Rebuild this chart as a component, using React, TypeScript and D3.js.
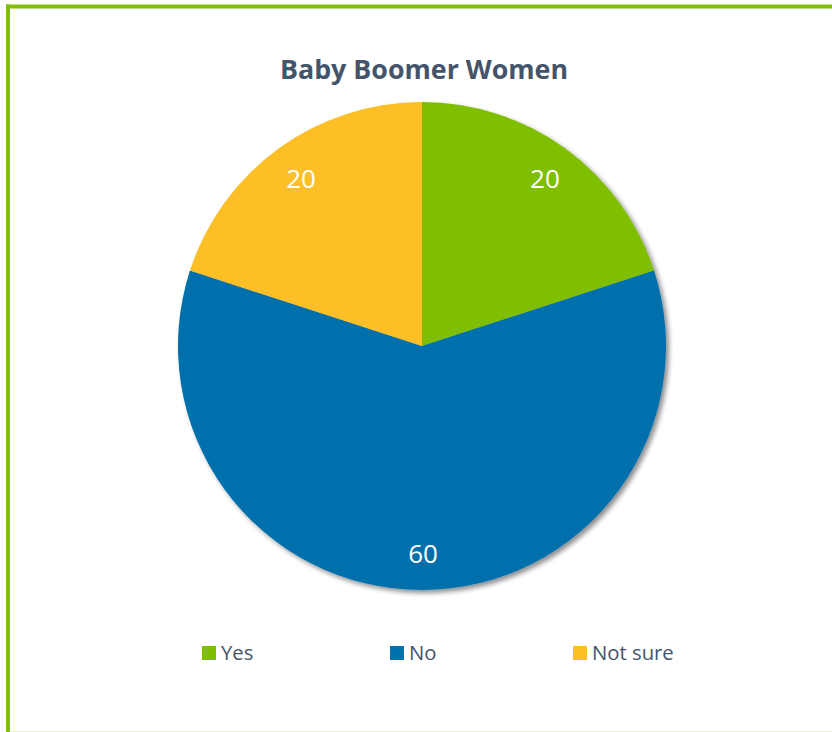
import React from "react";
import * as d3 from "d3";

const categories = ["Yes", "No", "Not sure"];
const values = [20, 60, 20];
const colors = ["#80BE06", "#0070AD", "#FDBF26"];
const title = "Baby Boomer Women";

const W = 832;
const H = 732;

export default function App() {
  const cx = 422;
  const cy = 346;
  const r = 244;
  const pie = d3.pie<number>().sort(null).startAngle(0).endAngle(2 * Math.PI);
  const arcs = pie(values);
  const arc = d3.arc<d3.PieArcDatum<number>>().innerRadius(0).outerRadius(r);
  const labelArc = d3.arc<d3.PieArcDatum<number>>().innerRadius(r * 0.85).outerRadius(r * 0.85);
  const legendX = [202, 390, 573];
  const font = "'Open Sans', sans-serif";
  return (
    <svg width={W} height={H} style={{ position: "absolute", left: 0, top: 0 }}>
      <defs>
        <filter id="sh" x="-10%" y="-10%" width="125%" height="125%">
          <feGaussianBlur in="SourceAlpha" stdDeviation="2.5" />
          <feOffset dx="3" dy="3" result="b" />
          <feComponentTransfer>
            <feFuncA type="linear" slope="0.45" />
          </feComponentTransfer>
          <feMerge>
            <feMergeNode />
            <feMergeNode in="SourceGraphic" />
          </feMerge>
        </filter>
      </defs>
      <rect x={0} y={0} width={W} height={H} fill="#fff" />
      <line x1={6} x2={W} y1={6.5} y2={6.5} stroke="#7FBF0A" strokeWidth={4} />
      <line x1={8} x2={8} y1={4.5} y2={H} stroke="#7FBF0A" strokeWidth={4} />
      <line x1={10} x2={W} y1={731.5} y2={731.5} stroke="#E8EED8" strokeWidth={1} />
      <text x={424} y={79} textAnchor="middle" fontFamily={font} fontWeight="bold" fontSize={26.8} fill="#44546A">
        {title}
      </text>
      <g transform={`translate(${cx},${cy})`} filter="url(#sh)">
        {arcs.map((a, i) => (
          <path key={i} d={arc(a) || ""} fill={colors[i]} />
        ))}
      </g>
      <g transform={`translate(${cx},${cy})`}>
        {arcs.map((a, i) => {
          const [x, y] = labelArc.centroid(a);
          return (
            <text key={i} x={x + 1} y={y} dy="0.36em" textAnchor="middle" fontFamily={font} fontSize={26} fill="#fff">
              {values[i]}
            </text>
          );
        })}
      </g>
      {categories.map((c, i) => (
        <g key={c}>
          <rect x={legendX[i]} y={646} width={14} height={14} fill={colors[i]} />
          <text x={legendX[i] + 19} y={660} fontFamily={font} fontSize={20.3} fill="#44546A">
            {c}
          </text>
        </g>
      ))}
    </svg>
  );
}
